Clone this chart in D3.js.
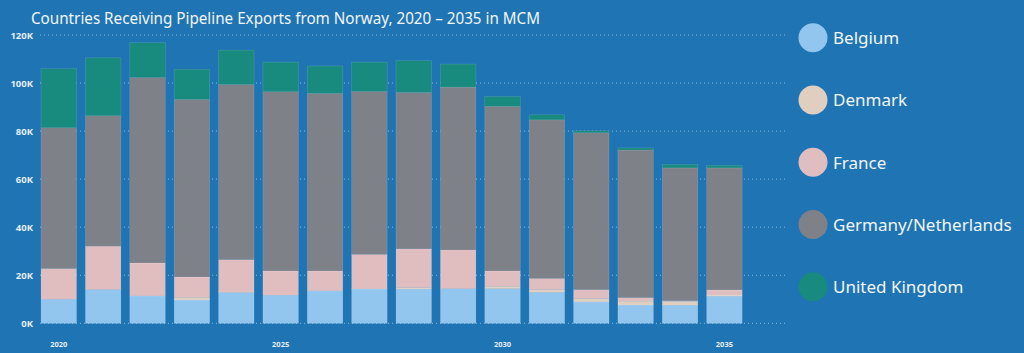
<!DOCTYPE html>
<html><head><meta charset="utf-8">
<script src="https://cdn.jsdelivr.net/npm/d3@7/dist/d3.min.js"></script>
<style>
html,body{margin:0;padding:0;background:#1F74B4;}
svg{display:block;}
</style></head><body>
<svg id="chart" width="1024" height="353"></svg>
<script>
const years = [2020,2021,2022,2023,2024,2025,2026,2027,2028,2029,2030,2031,2032,2033,2034,2035];
const seriesNames = ["Belgium","Denmark","France","Germany/Netherlands","United Kingdom"];
const belgium  = [10.0,14.0,11.4, 9.7,12.8,11.7,13.5,14.3,14.2,14.4,14.4,12.9, 8.9, 7.6, 7.5,11.3];
const denmark  = [ 0.0, 0.0, 0.0, 1.1, 0.2, 0.0, 0.0, 0.0, 0.6, 0.0, 1.0, 1.1, 1.4, 1.6, 1.6, 0.5];
const france   = [12.8,18.1,13.7, 8.5,13.5,10.1, 8.3,14.4,16.2,16.1, 6.4, 4.7, 3.7, 1.5, 0.3, 2.1];
const germany  = [58.6,54.3,77.2,73.9,72.9,74.6,73.9,67.8,65.1,67.8,68.5,66.0,65.3,61.4,55.3,50.8];
const uk       = [24.6,24.1,14.5,12.5,14.3,12.3,11.4,12.2,13.2, 9.6, 4.1, 2.1, 0.8, 0.9, 1.4, 1.0];
const yTicks = [0,20,40,60,80,100,120];
const xTickLabels = [2020,2025,2030,2035];
const colors = ["#93C6EE","#E0CFC0","#E0BEC0","#7F8189","#198A7E"];

const svg = d3.select("#chart");
const fontFam = "'Noto Sans', 'Open Sans', sans-serif";

const table = years.map((y,i)=>({year:y,"Belgium":belgium[i],"Denmark":denmark[i],"France":france[i],"Germany/Netherlands":germany[i],"United Kingdom":uk[i]}));
const stack = d3.stack().keys(seriesNames)(table);

const x = d3.scaleBand().domain(years).range([36.6,746.6]).paddingInner(0.2).paddingOuter(0.1);
const y = d3.scaleLinear().domain([0,120]).range([323.3,35]);

// gridlines
svg.append("g").selectAll("line").data(yTicks).join("line")
  .attr("x1",40).attr("x2",788)
  .attr("y1",d=>y(d)).attr("y2",d=>y(d))
  .attr("stroke","rgba(225,235,245,0.55)").attr("stroke-width",1)
  .attr("stroke-dasharray","1,3");

// y labels
svg.append("g").selectAll("text").data(yTicks).join("text")
  .attr("x",33).attr("y",d=>y(d)+3.5)
  .attr("text-anchor","end")
  .attr("font-family",fontFam).attr("font-size",9.5).attr("font-weight","bold")
  .attr("fill","#E6EEF6")
  .text(d=>d+"K");

// bars
svg.append("g").selectAll("g").data(stack).join("g")
  .attr("fill",(d,i)=>colors[i])
  .selectAll("rect").data(d=>d).join("rect")
  .attr("x",d=>x(d.data.year))
  .attr("width",x.bandwidth())
  .attr("y",d=>y(d[1]))
  .attr("height",d=>Math.max(0,y(d[0])-y(d[1])))
  .attr("stroke","rgba(255,255,255,0.18)").attr("stroke-width",0.6);

// x labels
svg.append("g").selectAll("text").data(xTickLabels).join("text")
  .attr("x",d=>x(d)+x.bandwidth()/2).attr("y",347)
  .attr("text-anchor","middle")
  .attr("font-family",fontFam).attr("font-size",7.5).attr("font-weight","bold")
  .attr("fill","#E6EEF6")
  .text(d=>d);

// title
svg.append("text").attr("x",31).attr("y",24)
  .attr("font-family",fontFam).attr("font-size",16)
  .attr("textLength",509).attr("lengthAdjust","spacingAndGlyphs")
  .attr("fill","#F2F5F8")
  .text("Countries Receiving Pipeline Exports from Norway, 2020 – 2035 in MCM");

// legend
const lg = svg.append("g").selectAll("g").data(seriesNames).join("g")
  .attr("transform",(d,i)=>`translate(813,${37.7+i*62.25})`);
lg.append("circle").attr("r",14.5).attr("fill",(d,i)=>colors[i]);
lg.append("text").attr("x",20).attr("y",6.5)
  .attr("font-family",fontFam).attr("font-size",17)
  .attr("fill","#F2F5F8").text(d=>d);
</script>
</body></html>
